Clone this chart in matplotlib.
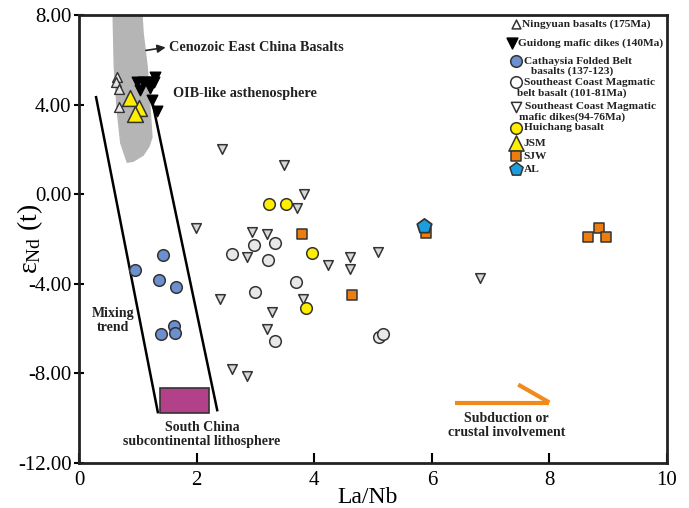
import matplotlib.pyplot as plt
from matplotlib.patches import Polygon, Rectangle

plt.rcParams['font.family'] = ['Liberation Serif', 'DejaVu Serif']
plt.rcParams['mathtext.fontset'] = 'custom'
plt.rcParams['mathtext.rm'] = 'Liberation Serif'
plt.rcParams['mathtext.it'] = 'Liberation Serif'

# Ningyuan basalts (175Ma)
ny_x = [0.65, 0.63, 0.68, 0.68]
ny_y = [5.22, 5.00, 4.69, 3.88]

# Guidong mafic dikes (140Ma)
gd_x = [0.99, 1.08, 1.18, 1.29, 1.28, 1.03, 1.21, 1.24, 1.33]
gd_y = [4.99, 4.99, 5.01, 5.21, 5.00, 4.64, 4.76, 4.20, 3.72]

# Cathaysia Folded Belt basalts
cf_x = [1.42, 0.96, 1.36, 1.65, 1.62, 1.63, 1.39]
cf_y = [-2.72, -3.39, -3.81, -4.14, -5.88, -6.18, -6.26]

# Southeast Coast Magmatic belt basalt
sb_x = [2.61, 2.98, 3.33, 3.21, 3.69, 3.00, 3.34, 5.11, 5.17]
sb_y = [-2.68, -2.28, -2.20, -2.95, -3.91, -4.36, -6.55, -6.37, -6.22]

# Southeast Coast Magmatic mafic dikes
sd_x = [2.44, 3.49, 3.83, 3.71, 1.99, 2.95, 3.20, 2.85, 4.23, 4.60,
        4.60, 5.09, 6.82, 2.40, 3.81, 3.28, 3.19, 2.60, 2.86]
sd_y = [2.01, 1.29, 0.03, -0.63, -1.50, -1.68, -1.76, -2.80, -3.17, -2.80,
        -3.34, -2.58, -3.74, -4.69, -4.66, -5.26, -6.00, -7.80, -8.10]

# Huichang basalt
hc_x = [3.23, 3.52, 3.97, 3.86]
hc_y = [-0.46, -0.42, -2.62, -5.07]

# JSM
jsm_x = [0.87, 1.02, 0.96]
jsm_y = [4.30, 3.85, 3.60]

# SJW
sjw_x = [3.79, 4.65, 5.90, 8.65, 8.84, 8.96]
sjw_y = [-1.76, -4.51, -1.73, -1.91, -1.52, -1.91]

# AL
al_x = [5.86]
al_y = [-1.43]

# Cenozoic East China basalt field
cz_x = [0.58, 0.60, 0.65, 0.71, 0.82, 0.92, 1.09, 1.19, 1.24, 1.21, 1.16, 1.09, 1.07]
cz_y = [8.0, 5.67, 3.75, 2.28, 1.43, 1.47, 1.74, 2.14, 2.54, 3.75, 5.67, 7.19, 8.0]

# mixing trend band
mix_left_x = [0.29, 1.34]
mix_left_y = [4.33, -9.73]
mix_right_x = [1.24, 2.35]
mix_right_y = [4.20, -9.64]

# South China subcontinental lithosphere box
scl_x0, scl_x1 = 1.37, 2.21
scl_y0, scl_y1 = -9.79, -8.63

edge = '#333333'

fig = plt.figure(figsize=(6.89, 5.08), dpi=100)
ax = fig.add_axes([0.1147, 0.0886, 0.8534, 0.8819])

ax.add_patch(Polygon(list(zip(cz_x, cz_y)), closed=True, facecolor='#b5b5b5',
                     edgecolor='#b5b5b5', zorder=1))
ax.plot(mix_left_x, mix_left_y, color='black', lw=1.8, zorder=2)
ax.plot(mix_right_x, mix_right_y, color='black', lw=1.8, zorder=2)
ax.add_patch(Rectangle((scl_x0, scl_y0), scl_x1 - scl_x0, scl_y1 - scl_y0,
                       facecolor='#b2418a', edgecolor='#333333', lw=1.2, zorder=2))

ax.scatter(sd_x, sd_y, marker='v', s=48, facecolor='#d8d8d8', edgecolor=edge, lw=1.1, zorder=3)
ax.scatter(sb_x, sb_y, marker='o', s=70, facecolor='#e8e8e8', edgecolor=edge, lw=1.1, zorder=3)
ax.scatter(cf_x, cf_y, marker='o', s=70, facecolor='#6c8fd0', edgecolor=edge, lw=1.1, zorder=3)
ax.scatter(hc_x, hc_y, marker='o', s=70, facecolor='#ffee00', edgecolor=edge, lw=1.1, zorder=3)
ax.scatter(sjw_x, sjw_y, marker='s', s=62, facecolor='#ee7d10', edgecolor=edge, lw=1.1, zorder=3)
ax.scatter(al_x, al_y, marker='p', s=120, facecolor='#1a9ee0', edgecolor=edge, lw=1.3, zorder=4)
ax.scatter(ny_x, ny_y, marker='^', s=50, facecolor='#e6e6e6', edgecolor=edge, lw=1.0, zorder=3)
ax.scatter(gd_x, gd_y, marker='v', s=58, facecolor='black', edgecolor='black', zorder=3)
ax.scatter(jsm_x, jsm_y, marker='^', s=130, facecolor='#ffee00', edgecolor=edge, lw=1.1, zorder=4)

# annotations
bold = dict(fontweight='bold', color='#222222')
ax.annotate('', xy=(1.52, 6.57), xytext=(1.09, 6.40),
            arrowprops=dict(arrowstyle='-|>', color='#222222', lw=1.2, mutation_scale=12))
ax.text(1.53, 6.56, 'Cenozoic East China Basalts', fontsize=10.3, va='center', **bold)
ax.text(1.60, 4.50, 'OIB-like asthenosphere', fontsize=10.3, va='center', **bold)
ax.text(0.58, -5.62, 'Mixing\ntrend', fontsize=10, ha='center', va='center',
        linespacing=1.1, **bold)
ax.text(2.09, -10.72, 'South China\nsubcontinental lithosphere', fontsize=10,
        ha='center', va='center', linespacing=1.1, **bold)
ax.text(7.27, -10.32, 'Subduction or\ncrustal involvement', fontsize=10,
        ha='center', va='center', linespacing=1.1, **bold)

# orange trend arrow
ax.plot([6.40, 8.00], [-9.30, -9.30], color='#ef8a1b', lw=3, solid_capstyle='butt')
ax.plot([7.47, 8.00], [-8.50, -9.30], color='#ef8a1b', lw=3, solid_capstyle='butt')

# hand-placed legend: (marker x, text x, y, marker, size, face, line 1, line 2)
tr = ax.transAxes
rows = [
    (0.743, 0.754, 0.980, '^', 40, '#ffffff', 'Ningyuan basalts (175Ma)', None),
    (0.737, 0.747, 0.937, 'v', 60, 'black', 'Guidong mafic dikes (140Ma)', None),
    (0.743, 0.756, 0.897, 'o', 70, '#6c8fd0', 'Cathaysia Folded Belt', 'basalts (137-123)'),
    (0.743, 0.756, 0.850, 'o', 70, '#ffffff', 'Southeast Coast Magmatic', 'belt basalt (101-81Ma)'),
    (0.743, 0.758, 0.795, 'v', 55, '#ffffff', 'Southeast Coast Magmatic', 'mafic dikes(94-76Ma)'),
    (0.743, 0.756, 0.748, 'o', 70, '#ffee00', 'Huichang basalt', None),
    (0.743, 0.756, 0.714, '^', 120, '#ffee00', 'JSM', None),
    (0.743, 0.756, 0.685, 's', 60, '#ee7d10', 'SJW', None),
    (0.743, 0.756, 0.656, 'p', 100, '#1a9ee0', 'AL', None),
]
for lx, tx, yy, mk, sz, fc, t1, t2 in rows:
    ec = 'black' if fc == 'black' else edge
    ax.scatter([lx], [yy], marker=mk, s=sz, facecolor=fc, edgecolor=ec, lw=1.1,
               transform=tr, clip_on=False, zorder=5)
    ax.text(tx, yy, t1, transform=tr, fontsize=8.2, va='center', **bold)
    if t2:
        ax.text(0.838, yy - 0.0235, t2, transform=tr, fontsize=8.2, va='center',
                ha='center', **bold)

ax.set_xlim(0, 10)
ax.set_ylim(-12, 8)
ax.set_xticks([0, 2, 4, 6, 8, 10])
ax.set_yticks([-12, -8, -4, 0, 4, 8])
ax.set_yticklabels(['-12.00', '-8.00', '-4.00', '0.00', '4.00', '8.00'])
ax.tick_params(axis='x', direction='in', length=7, width=1.5, labelsize=15, pad=6)
ax.tick_params(axis='y', direction='inout', length=7, width=1.5, labelsize=15, pad=2)
for s in ax.spines.values():
    s.set_linewidth(2.0)
    s.set_color('#222222')

ax.set_xlabel('La/Nb', fontsize=17, va='center')
ax.xaxis.set_label_coords(0.49, -0.078)
ax.set_ylabel('ε$_{\\mathrm{Nd}}$ (t)', fontsize=20, va='center')
ax.yaxis.set_label_coords(-0.083, 0.50)

fig.savefig('out.png', dpi=100)
